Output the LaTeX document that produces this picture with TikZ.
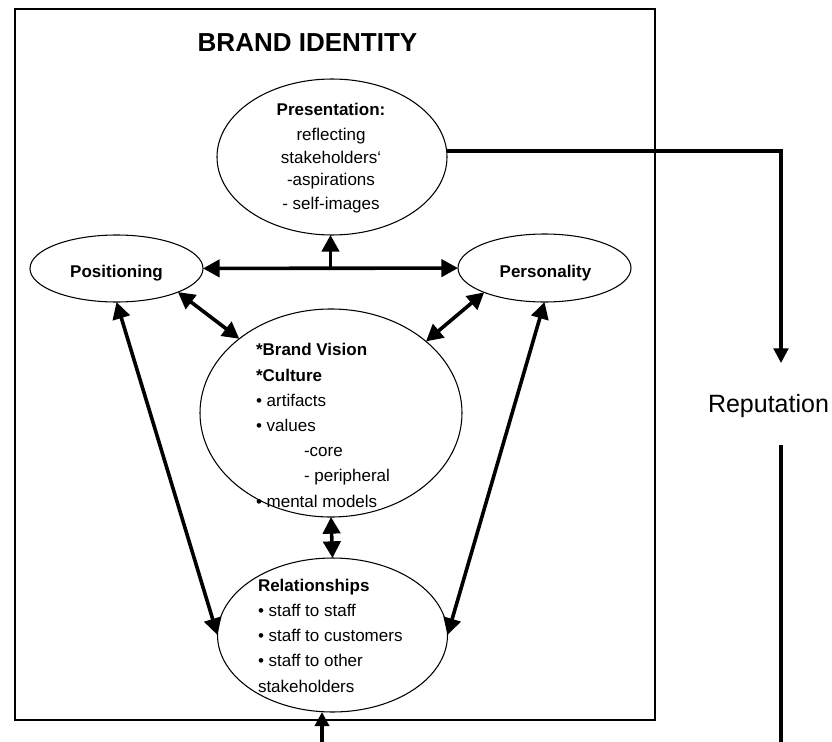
\documentclass[tikz,border=0pt]{standalone}
\usepackage{fontspec}
\setmainfont{Liberation Sans}
\usetikzlibrary{arrows.meta,calc,shapes.geometric}

\begin{document}
\begin{tikzpicture}[
  x=0.75pt, y=-0.75pt,
  oval/.style={draw, ellipse, line width=0.8pt, inner sep=0pt, outer sep=0pt},
  bodytxt/.style={inner sep=0pt, outer sep=0pt, font=\fontsize{12.75pt}{18.9pt}\selectfont},
  link/.style={line width=2.7pt, {Triangle[length=12.5pt,width=13pt]}-{Triangle[length=12.5pt,width=13pt]}},
  feed/.style={line width=2.7pt, -{Triangle[length=12.5pt,width=13pt]}},
  flow/.style={line width=2.3pt, -{Triangle[length=11pt,width=11pt]}},
  plain/.style={line width=2.3pt}
]
\useasboundingbox (0,0) rectangle (832,742);

% frame of the brand identity block
\draw[line width=1.3pt] (15,9) rectangle (655,720);
\node[anchor=base, inner sep=0pt, font=\fontsize{19.5pt}{23pt}\selectfont\bfseries] (title) at (307.5,52) {BRAND IDENTITY};

% ellipses
\node[oval, minimum width=172.5pt, minimum height=117pt] (pres) at (332,157) {};
\node[oval, minimum width=129.75pt, minimum height=50.25pt] (pos) at (116.5,268.5) {};
\node[oval, minimum width=129.75pt, minimum height=51pt] (pers) at (544.5,268) {};
\node[oval, minimum width=196.5pt, minimum height=156pt] (vis) at (331,413) {};
\node[oval, minimum width=172.5pt, minimum height=115.5pt] (rel) at (332.5,635) {};

% texts inside the ellipses (multi-line nodes sit on the baseline of their last line)
\node[bodytxt, anchor=base, align=center, font=\fontsize{12.75pt}{17.25pt}\selectfont] (prestxt) at (331,209)
  {\textbf{Presentation:}\\[1.5pt]reflecting\\stakeholders‘\\-aspirations\\- self-images};
\node[bodytxt, anchor=base, font=\fontsize{12.75pt}{15pt}\selectfont\bfseries] (postxt) at (116.5,277) {Positioning};
\node[bodytxt, anchor=base, font=\fontsize{12.75pt}{15pt}\selectfont\bfseries] (perstxt) at (545.5,277) {Personality};
\node[bodytxt, anchor=base west, align=left] (vistxt) at (256,507)
  {\textbf{*Brand Vision}\\\textbf{*Culture}\\• artifacts\\• values\\\hspace*{36pt}-core\\\hspace*{36pt}- peripheral\\• mental models};
\node[bodytxt, anchor=base west, align=left] (reltxt) at (258,692)
  {\textbf{Relationships}\\• staff to staff\\• staff to customers\\• staff to other\\stakeholders};

% reputation
\node[anchor=base, inner sep=0pt, font=\fontsize{18.75pt}{22pt}\selectfont] (rep) at (768.5,412) {Reputation};
\coordinate (repin) at (781,363);
\coordinate (repout) at (781,445);
\coordinate (repend) at (781,742);
\coordinate (base) at (322,742);

% connectors
\draw[link] (pos) -- (pers);
\coordinate (mid) at ($(pos.east)!0.5!(pers.west)$);
\draw[feed] (mid) -- (mid |- pres.south);
\draw[link] (pos.-21) -- (vis.141);
\draw[link] (pers.202) -- (vis.37);
\draw[link] (pos.south) -- (rel.west);
\draw[link] (pers.south) -- (rel.east);
\draw[link] (vis.south) -- (rel.north);
\draw[feed, line width=2.6pt, -{Triangle[length=10.5pt,width=10.5pt]}] (base) -- (base |- rel.south);
\draw[flow] (pres.3) -| (repin);
\draw[plain] (repout) -- (repend);
\end{tikzpicture}
\end{document}
